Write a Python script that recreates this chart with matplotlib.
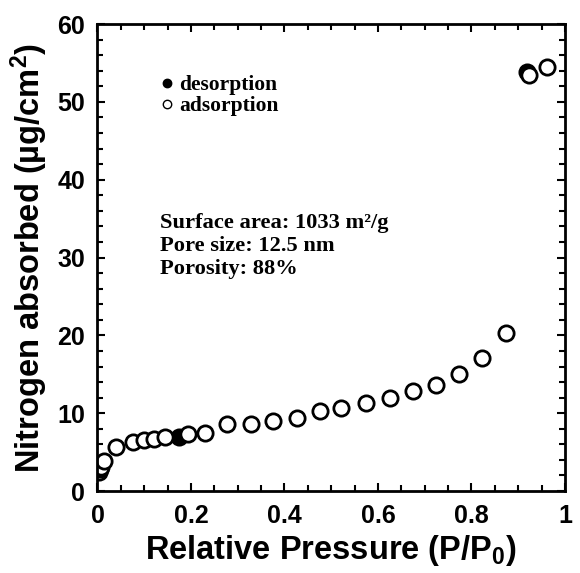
import matplotlib
matplotlib.use("Agg")
import matplotlib.pyplot as plt
from matplotlib.ticker import MultipleLocator, FuncFormatter

# nitrogen isotherm
ads_p = [0.004, 0.006, 0.008, 0.015, 0.04, 0.076, 0.099, 0.122, 0.145, 0.193, 0.23,
         0.278, 0.328, 0.376, 0.426, 0.477, 0.522, 0.575, 0.625, 0.674, 0.724, 0.774,
         0.822, 0.873, 0.924, 0.962]
ads_n = [2.4, 2.8, 3.1, 3.8, 5.7, 6.3, 6.5, 6.7, 7.0, 7.3, 7.5,
         8.6, 8.6, 9.0, 9.4, 10.3, 10.7, 11.3, 12.0, 12.8, 13.6, 15.1,
         17.1, 20.3, 53.5, 54.5]
des_p = [0.175, 0.918]
des_n = [7.0, 53.9]

stats = ["Surface area: 1033 m\u00b2/g", "Pore size: 12.5 nm", "Porosity: 88%"]

plt.rcParams["mathtext.fontset"] = "custom"
plt.rcParams["mathtext.rm"] = "Liberation Sans:bold"
plt.rcParams["mathtext.it"] = "Liberation Sans:bold"
plt.rcParams["mathtext.bf"] = "Liberation Sans:bold"

sans = {"family": "Liberation Sans", "weight": "bold"}
serif = {"family": "Liberation Serif", "weight": "bold"}

fig = plt.figure(figsize=(5.8, 5.73), dpi=100)
ax = fig.add_axes([0.168, 0.143, 0.806, 0.815])

ax.plot(des_p, des_n, "o", ms=11, mfc="black", mec="black", mew=2, label="desorption")
ax.plot(ads_p, ads_n, "o", ms=11, mfc="white", mec="black", mew=2, label="adsorption")

ax.set_xlim(0, 1)
ax.set_ylim(0, 60)
ax.xaxis.set_major_locator(MultipleLocator(0.2))
ax.xaxis.set_minor_locator(MultipleLocator(0.05))
ax.yaxis.set_major_locator(MultipleLocator(10))
ax.yaxis.set_minor_locator(MultipleLocator(2))
ax.xaxis.set_major_formatter(FuncFormatter(lambda v, _: f"{v:g}"))
ax.tick_params(which="both", direction="in", top=True, right=True, width=1.5)
ax.tick_params(which="major", length=6)
ax.tick_params(which="minor", length=4)
ax.tick_params(axis="x", pad=9)
ax.tick_params(axis="y", pad=9)
for lab in ax.get_xticklabels() + ax.get_yticklabels():
    lab.set_fontfamily("Liberation Sans")
    lab.set_fontweight("bold")
    lab.set_fontsize(18)
for s in ax.spines.values():
    s.set_linewidth(2)

ax.set_xlabel("Relative Pressure (P/P$_0$)", fontsize=23.5, labelpad=4, **sans)
ax.set_ylabel("Nitrogen absorbed (\u00b5g/cm$^2$)", fontsize=23.5, labelpad=5, **sans)

leg = ax.legend(loc="upper left", bbox_to_anchor=(0.111, 0.914), frameon=False,
                markerscale=0.55, handlelength=0.6, handletextpad=0.3,
                labelspacing=0.05, borderpad=0,
                prop={"family": "Liberation Serif", "weight": "bold", "size": 15.5})
for h in leg.legend_handles:
    h.set_markeredgewidth(1)

ax.text(0.134, 0.455, "\n".join(stats), transform=ax.transAxes, fontsize=16.2,
        linespacing=1.2, va="bottom", ha="left", **serif)

fig.savefig("out.png", dpi=100)
